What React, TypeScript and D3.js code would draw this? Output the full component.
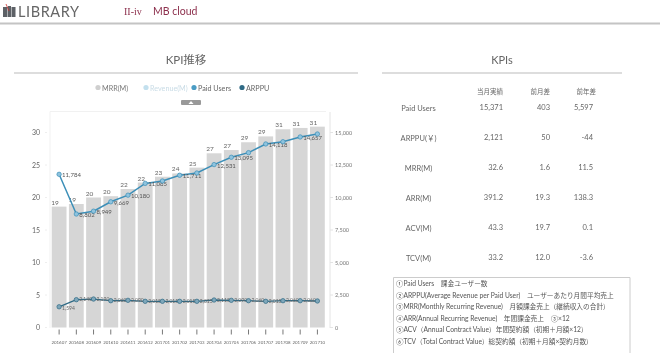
import React from "react";
import * as d3 from "d3";

const months = ["201607","201608","201609","201610","201611","201612","201701","201702","201703","201704","201705","201706","201707","201708","201709","201710"];
const mrr = [18.6,19.0,20.0,20.2,21.3,22.3,23.2,23.7,24.6,26.8,27.3,28.5,29.4,30.5,30.7,30.9];
const mrrLabels = ["19","19","20","20","22","22","23","24","25","27","27","29","29","31","31","31"];
const paidUsers = [11784,8730,8949,9669,10180,11085,11270,11711,11885,12531,13095,13450,14118,14290,14657,14885];
const paidLabels = ["11,784","8,802","8,949","9,669","10,180","11,085","","11,711","","12,531","13,095","","14,118","","14,657",""];
const arppu = [1594,2140,2190,2060,2090,2015,2015,2015,2015,2115,2090,2060,2015,2060,2060,2040];
const arppuLabels = ["1,594","2,140","2,190","2,060","2,090","2,015","2,015","2,015","2,015","2,115","2,090","2,060","2,015","2,060","2,060",""];
const leftTicks = [0,5,10,15,20,25,30];
const rightTicks = [0,2500,5000,7500,10000,12500,15000];
const legendItems = [
  { name: "MRR(M)", fill: "#cfcfcf", text: "#777" },
  { name: "Revenue(M)", fill: "#c3e0ee", text: "#c9dce6" },
  { name: "Paid Users", fill: "#4a9cc4", text: "#666" },
  { name: "ARPPU", fill: "#2f6a85", text: "#666" },
];
const kpiHeaders = ["当月実績","前月差","前年差"];
const kpiRows = ["Paid Users","ARPPU(￥)","MRR(M)","ARR(M)","ACV(M)","TCV(M)"];
const kpiCurrent = ["15,371","2,121","32.6","391.2","43.3","33.2"];
const kpiMonth = ["403","50","1.6","19.3","19.7","12.0"];
const kpiYear = ["5,597","-44","11.5","138.3","0.1","-3.6"];
const notes = [
  "①Paid Users　課金ユーザー数",
  "②ARPPU(Average Revenue per Paid User)　ユーザーあたり月間平均売上",
  "③MRR(Monthly Recurring Revenue)　月額課金売上（継続収入の合計）",
  "④ARR(Annual Recurring Revenue)　年間課金売上　③×12",
  "⑤ACV（Annual Contract Value）年間契約額（初期＋月額×12）",
  "⑥TCV（Total Contract Value）総契約額（初期＋月額×契約月数）",
];

const FONT = "Lato, 'Noto Sans CJK JP', sans-serif";
const x = d3.scaleBand<string>().domain(months).range([50.5, 326]).paddingInner(0.14).paddingOuter(0.07);
const yL = d3.scaleLinear().domain([0, 30]).range([327.5, 132.5]);
const yR = d3.scaleLinear().domain([0, 15000]).range([327.5, 132.5]);
const cx = (i: number) => (x(months[i]) as number) + x.bandwidth() / 2;
const lineOf = d3.line<number>().x((_, i) => cx(i)).y((d) => yR(d));
const rowY = d3.scalePoint<string>().domain(kpiRows).range([111, 261]);
const fmt = d3.format(",");

export default function App() {
  return (
    <svg width={660} height={353} style={{ position: "absolute", left: 0, top: 0, background: "#fff", filter: "blur(0.5px)", fontFamily: FONT }}>
      {/* Header */}
      <g fill="#5d6166">
        <rect x={3} y={7} width={4.5} height={10} />
        <rect x={8} y={6} width={3} height={11} />
        <rect x={11.5} y={7} width={4} height={10} />
      </g>
      <path d="M6 4 L9 11" stroke="#c9302c" strokeWidth={0.8} />
      <text x={18} y={17} fontSize={14.5} fill="#666" letterSpacing={0.6}>LIBRARY</text>
      <text x={124} y={15} fontSize={10} fill="#8c2f4c" fontFamily="'Liberation Serif', serif">II-iv</text>
      <text x={153} y={15} fontSize={10.5} fill="#8c2f4c">MB cloud</text>
      <rect x={0} y={22.5} width={660} height={2} fill="#c4c4c4" />

      {/* KPI section title */}
      <text x={186} y={64} textAnchor="middle" fontSize={11.5} fill="#666">KPI推移</text>
      <line x1={14} x2={358} y1={73} y2={73} stroke="#bbb" />
      <text x={502} y={64} textAnchor="middle" fontSize={11} fill="#666">KPIs</text>
      <line x1={382} x2={622} y1={73} y2={73} stroke="#bbb" />

      {/* Legend */}
      {legendItems.map((l, i) => {
        const lx = 98 + i * 48;
        return (
          <g key={l.name}>
            <circle cx={lx} cy={87.5} r={2.6} fill={l.fill} />
            <text x={lx + 4} y={90.5} fontSize={7.2} fill={l.text}>{l.name}</text>
          </g>
        );
      })}
      <rect x={181} y={100} width={20} height={5} rx={1} fill="#999" />
      <path d="M188.5 104 L191 101 L193.5 104 Z" fill="#fff" />

      {/* Plot frame */}
      <line x1={50} x2={326} y1={111.5} y2={111.5} stroke="#f1f1f1" />
      <line x1={50} x2={50} y1={111.5} y2={328} stroke="#f1f1f1" />
      <line x1={330} x2={330} y1={112} y2={328} stroke="#e4e4e4" />

      {/* Axes */}
      {leftTicks.map((t) => (
        <g key={t}>
          <text x={40} y={yL(t) + 2.5} textAnchor="end" fontSize={7} fill="#666">{t}</text>
          <line x1={45} x2={47} y1={yL(t)} y2={yL(t)} stroke="#eee" />
        </g>
      ))}
      {rightTicks.map((t) => (
        <g key={t}>
          <text x={335} y={yR(t) + 2} fontSize={5.5} fill="#777">{fmt(t)}</text>
          <line x1={330} x2={333} y1={yR(t)} y2={yR(t)} stroke="#e4e4e4" />
        </g>
      ))}

      {/* Bars */}
      {mrr.map((v, i) => (
        <g key={months[i]}>
          <rect x={x(months[i])} y={yL(v)} width={x.bandwidth()} height={yL(0) - yL(v)} fill="#d6d6d6" />
          <text x={cx(i) - 4} y={yL(v) - 2} fontSize={6.5} fill="#666" textAnchor="middle">{mrrLabels[i]}</text>
          <line x1={cx(i)} x2={cx(i)} y1={329.5} y2={334.5} stroke="#777" />
          <text x={cx(i)} y={344} fontSize={4.4} fill="#666" textAnchor="middle">{months[i]}</text>
        </g>
      ))}

      {/* ARPPU */}
      <path d={lineOf(arppu) as string} fill="none" stroke="#2f6a85" strokeWidth={1.3} />
      {arppu.map((v, i) => (
        <g key={i}>
          <circle cx={cx(i)} cy={yR(v)} r={2.2} fill="#7fa7ba" stroke="#2f6a85" strokeWidth={0.7} />
          <text x={cx(i) + 3} y={yR(v) + (i === 0 ? 3 : 1.5)} fontSize={5} fill="#666">{arppuLabels[i]}</text>
        </g>
      ))}

      {/* Paid users */}
      <path d={lineOf(paidUsers) as string} fill="none" stroke="#3c8fb8" strokeWidth={1.5} />
      {paidUsers.map((v, i) => (
        <g key={i}>
          <circle cx={cx(i)} cy={yR(v)} r={2.2} fill="#8fc3de" stroke="#3c8fb8" strokeWidth={0.7} />
          <text x={cx(i) + 3} y={yR(v) + 3} fontSize={6} fill="#555">{paidLabels[i]}</text>
        </g>
      ))}

      {/* KPI table */}
      {kpiHeaders.map((h, i) => (
        <text key={h} x={[503, 550, 596][i]} y={94} textAnchor="end" fontSize={6.5} fill="#666">{h}</text>
      ))}
      {kpiRows.map((r, i) => {
        const ry = rowY(r) as number;
        return (
          <g key={r} fill="#666" fontSize={7.5}>
            <text x={418.5} y={ry} textAnchor="middle">{r}</text>
            <text x={503} y={ry - 1} textAnchor="end">{kpiCurrent[i]}</text>
            <text x={550} y={ry - 1} textAnchor="end">{kpiMonth[i]}</text>
            <text x={593} y={ry - 1} textAnchor="end">{kpiYear[i]}</text>
          </g>
        );
      })}

      {/* Notes */}
      <path d="M393.5 353 V277.5 H630 V353" fill="none" stroke="#ccc" />
      {notes.map((n, i) => (
        <text key={i} x={396} y={286 + i * 11.6} fontSize={6.7} fill="#555">{n}</text>
      ))}
    </svg>
  );
}
